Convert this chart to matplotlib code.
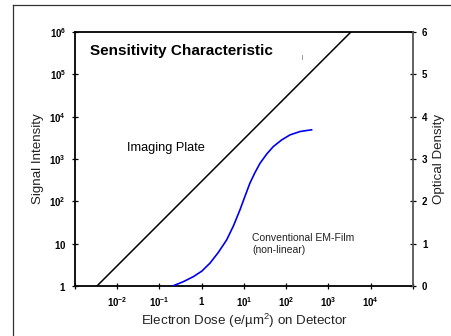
import numpy as np
import matplotlib
matplotlib.use("Agg")
import matplotlib.pyplot as plt
from matplotlib.lines import Line2D

plt.rcParams['font.family'] = ['Liberation Sans', 'DejaVu Sans']
plt.rcParams['mathtext.fontset'] = 'custom'
plt.rcParams['mathtext.rm'] = 'Liberation Sans'
plt.rcParams['mathtext.bf'] = 'Liberation Sans:bold'

# imaging plate: linear response, signal vs dose
plate_dose = [10**-2.48, 10**3.53]
plate_signal = [1, 1e6]

# conventional film: optical density vs dose
film_logdose = [-0.69, -0.44, -0.20, 0.00, 0.195, 0.39, 0.59, 0.75, 0.905, 1.02,
                1.14, 1.26, 1.38, 1.54, 1.69, 1.89, 2.09, 2.33, 2.60]
film_od = [0.0, 0.10, 0.22, 0.35, 0.54, 0.79, 1.09, 1.42, 1.80, 2.11,
           2.43, 2.68, 2.90, 3.12, 3.29, 3.45, 3.57, 3.65, 3.69]

x_ticks = [1e-3, 1e-2, 1e-1, 1, 1e1, 1e2, 1e3, 1e4, 1e5]
x_labels = ['', r'$\mathbf{10^{-2}}$', r'$\mathbf{10^{-1}}$', r'$\mathbf{1}$',
            r'$\mathbf{10^{1}}$', r'$\mathbf{10^{2}}$', r'$\mathbf{10^{3}}$',
            r'$\mathbf{10^{4}}$', '']
y_ticks = [1, 1e1, 1e2, 1e3, 1e4, 1e5, 1e6]
y_labels = [r'$\mathbf{1}$', r'$\mathbf{10}$', r'$\mathbf{10^{2}}$', r'$\mathbf{10^{3}}$',
            r'$\mathbf{10^{4}}$', r'$\mathbf{10^{5}}$', r'$\mathbf{10^{6}}$']
od_ticks = [0, 1, 2, 3, 4, 5, 6]

fig = plt.figure(figsize=(4.51, 3.36), dpi=100)
fig.patch.set_facecolor('white')

# outer frame (only top and left visible)
fx = 13 / 451
fy = 1 - 5 / 336
fig.add_artist(Line2D([fx, fx], [0, fy], transform=fig.transFigure, color='#333333', lw=0.9))
fig.add_artist(Line2D([fx, 1], [fy, fy], transform=fig.transFigure, color='#333333', lw=0.9))

ax = fig.add_axes([75 / 451, 50 / 336, 338 / 451, 254 / 336])
ax.set_xscale('log')
ax.set_yscale('log')
ax.set_xlim(1e-3, 1e5)
ax.set_ylim(1, 1e6)
ax.plot(plate_dose, plate_signal, color='black', lw=1.1)

ax.set_xticks(x_ticks)
ax.set_xticklabels(x_labels)
ax.set_yticks(y_ticks)
ax.set_yticklabels(y_labels)
ax.minorticks_off()
ax.tick_params(direction='inout', length=5, width=0.9, labelsize=7, pad=4)
for s in ['left', 'bottom', 'top']:
    ax.spines[s].set_linewidth(1.3)
ax.spines['right'].set_visible(False)

ax2 = ax.twinx()
ax2.set_ylim(0, 6)
ax2.plot(10 ** np.array(film_logdose), film_od, color='#0000ee', lw=1.2)
ax2.set_yticks(od_ticks)
ax2.set_yticklabels([str(t) for t in od_ticks], fontweight='bold')
ax2.tick_params(direction='inout', length=5, width=0.9, labelsize=7, pad=4)
ax2.spines['right'].set_color('#555555')
ax2.spines['right'].set_linewidth(1.3)
for s in ['left', 'bottom', 'top']:
    ax2.spines[s].set_visible(False)

ax.set_xlabel('Electron Dose (e/\u00b5m$^2$) on Detector', fontsize=9.6, labelpad=2, color='#222222')
ax.set_ylabel('Signal Intensity', fontsize=9.6, labelpad=4, color='#222222')
ax2.set_ylabel('Optical Density', fontsize=9.6, labelpad=4, color='#222222')

ax.text(0.045, 0.925, 'Sensitivity Characteristic', transform=ax.transAxes,
        fontsize=11, fontweight='bold', va='center')
ax.text(0.155, 0.545, 'Imaging Plate', transform=ax.transAxes, fontsize=9.2, va='center')
ax.text(0.525, 0.165, 'Conventional EM-Film\n(non-linear)', transform=ax.transAxes,
        fontsize=7.5, va='center', color='#222222', linespacing=1.2)

# small stray mark near the plate line
fig.add_artist(Line2D([302 / 451, 302 / 451], [1 - 55 / 336, 1 - 59 / 336],
                      transform=fig.transFigure, color='#888888', lw=0.6))

fig.savefig('out.png', dpi=100)
